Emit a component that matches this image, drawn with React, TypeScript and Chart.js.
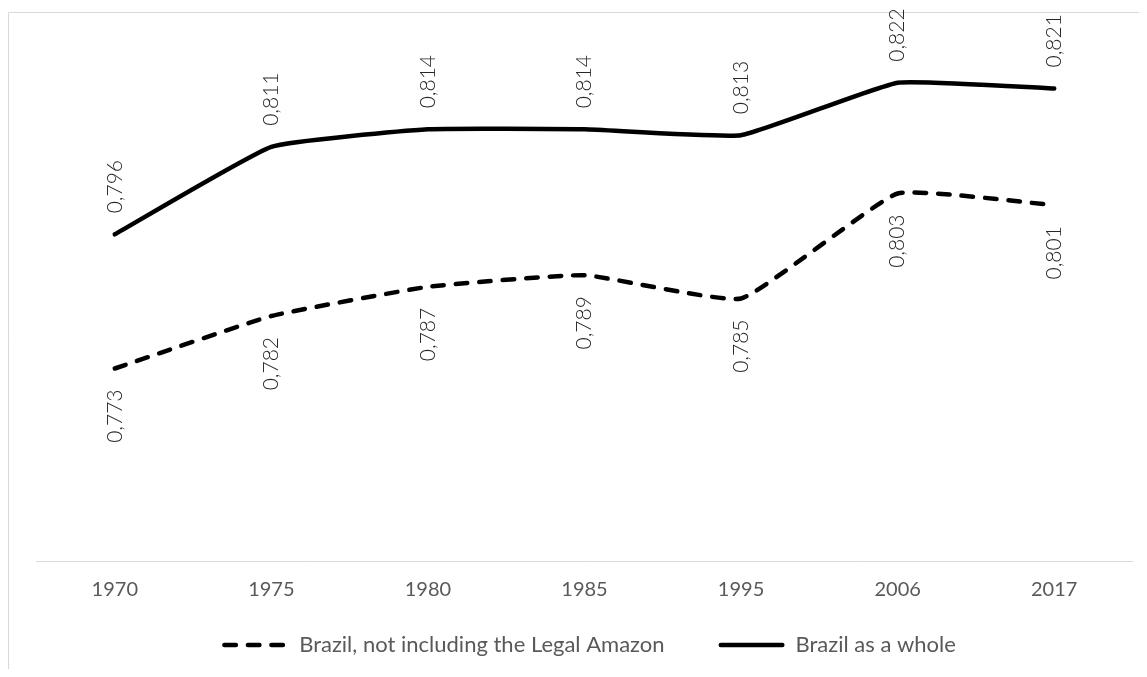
import { useEffect, useRef } from "react";
import { Chart, registerables } from "chart.js";

Chart.register(...registerables);

// Survey years on the category axis
const years = ["1970", "1975", "1980", "1985", "1995", "2006", "2017"];

// Index values per year
const brazilExclAmazon = [0.773, 0.782, 0.787, 0.789, 0.785, 0.803, 0.801];
const brazilWhole = [0.796, 0.811, 0.814, 0.814, 0.813, 0.822, 0.821];

const seriesNames = ["Brazil, not including the Legal Amazon", "Brazil as a whole"];
// Where each series puts its value labels relative to the line
const labelSides = ["below", "above"];

const yMin = 0.74;
const yMax = 0.83;

const W = 1131;
const H = 661;
const FONT = "Lato, 'Open Sans', sans-serif";

// Light outline around the chart panel (only top and left fall inside the canvas)
const framePlugin = {
  id: "panelFrame",
  beforeDraw(chart: any) {
    const { ctx } = chart;
    ctx.save();
    ctx.strokeStyle = "#d9d9d9";
    ctx.lineWidth = 1;
    ctx.beginPath();
    ctx.moveTo(0.5, chart.height);
    ctx.lineTo(0.5, 4.5);
    ctx.lineTo(chart.width, 4.5);
    ctx.stroke();
    ctx.restore();
  },
};

// Vertical value labels, written with a decimal comma
const valueLabelPlugin = {
  id: "valueLabels",
  afterDatasetsDraw(chart: any) {
    const { ctx } = chart;
    const gap = 21;
    chart.data.datasets.forEach((ds: any, i: number) => {
      const meta = chart.getDatasetMeta(i);
      const side = labelSides[i];
      meta.data.forEach((pt: any, j: number) => {
        const v = ds.data[j] as number;
        const text = v.toFixed(3).replace(".", ",");
        ctx.save();
        ctx.translate(pt.x, pt.y);
        ctx.rotate(-Math.PI / 2);
        ctx.font = `300 21px ${FONT}`;
        ctx.fillStyle = "#262626";
        ctx.textBaseline = "middle";
        if (side === "above") {
          ctx.textAlign = "left";
          ctx.fillText(text, gap, 0);
        } else {
          ctx.textAlign = "right";
          ctx.fillText(text, -gap, 0);
        }
        ctx.restore();
      });
    });
  },
};

// Bottom legend: a line sample in each series' own stroke style, then its name
const lineLegendPlugin = {
  id: "lineLegend",
  afterDraw(chart: any) {
    const { ctx, chartArea } = chart;
    const sampleW = 66;
    const textGap = 11;
    const itemGap = 54;
    const y = chart.height - 24;
    ctx.save();
    ctx.font = `22px ${FONT}`;
    const items = chart.data.datasets.map((ds: any) => ({
      ds,
      tw: ctx.measureText(ds.label).width,
    }));
    const total =
      items.reduce((s: number, it: any) => s + sampleW + textGap + it.tw, 0) +
      itemGap * (items.length - 1);
    let x = (chartArea.left + chartArea.right) / 2 + 4.5 - total / 2;
    items.forEach((it: any) => {
      const { ds } = it;
      const lw = ds.borderWidth;
      ctx.strokeStyle = ds.borderColor;
      ctx.lineWidth = lw;
      ctx.lineCap = ds.borderCapStyle || "butt";
      ctx.setLineDash(ds.borderDash || []);
      ctx.beginPath();
      ctx.moveTo(x + lw / 2, y);
      ctx.lineTo(x + sampleW - lw / 2, y);
      ctx.stroke();
      ctx.setLineDash([]);
      ctx.fillStyle = "#595959";
      ctx.textAlign = "left";
      ctx.textBaseline = "middle";
      ctx.fillText(ds.label, x + sampleW + textGap, y);
      x += sampleW + textGap + it.tw + itemGap;
    });
    ctx.restore();
  },
};

export default function App() {
  const canvasRef = useRef<HTMLCanvasElement | null>(null);

  useEffect(() => {
    const canvas = canvasRef.current;
    if (!canvas) return;
    const chart = new Chart(canvas, {
      type: "line",
      data: {
        labels: years,
        datasets: [
          {
            label: seriesNames[0],
            data: brazilExclAmazon,
            borderColor: "#000000",
            backgroundColor: "#000000",
            borderWidth: 4.5,
            borderDash: [11.5, 12],
            borderCapStyle: "round",
            borderJoinStyle: "round",
            pointRadius: 0,
            pointHoverRadius: 0,
            tension: 0.12,
            fill: false,
          },
          {
            label: seriesNames[1],
            data: brazilWhole,
            borderColor: "#000000",
            backgroundColor: "#000000",
            borderWidth: 4.5,
            borderCapStyle: "round",
            borderJoinStyle: "round",
            pointRadius: 0,
            pointHoverRadius: 0,
            tension: 0.12,
            fill: false,
          },
        ],
      },
      options: {
        responsive: false,
        animation: false,
        devicePixelRatio: 1,
        layout: { padding: { left: 28.5, right: 6.5, top: 28, bottom: 63 } },
        scales: {
          x: {
            type: "category",
            offset: true,
            grid: { display: false, drawTicks: false },
            border: { display: true, color: "#d9d9d9", width: 1 },
            ticks: {
              color: "#595959",
              font: { family: FONT, size: 20 },
              padding: 17,
              maxRotation: 0,
              autoSkip: false,
            },
            afterFit: (scale: any) => {
              scale.height = 45;
            },
          },
          y: {
            display: false,
            min: yMin,
            max: yMax,
          },
        },
        plugins: {
          legend: { display: false },
          tooltip: { enabled: false },
        },
      },
      plugins: [framePlugin, valueLabelPlugin, lineLegendPlugin],
    });
    return () => chart.destroy();
  }, []);

  return (
    <div style={{ width: W, height: H }}>
      <canvas ref={canvasRef} width={W} height={H} style={{ display: "block" }} />
    </div>
  );
}
